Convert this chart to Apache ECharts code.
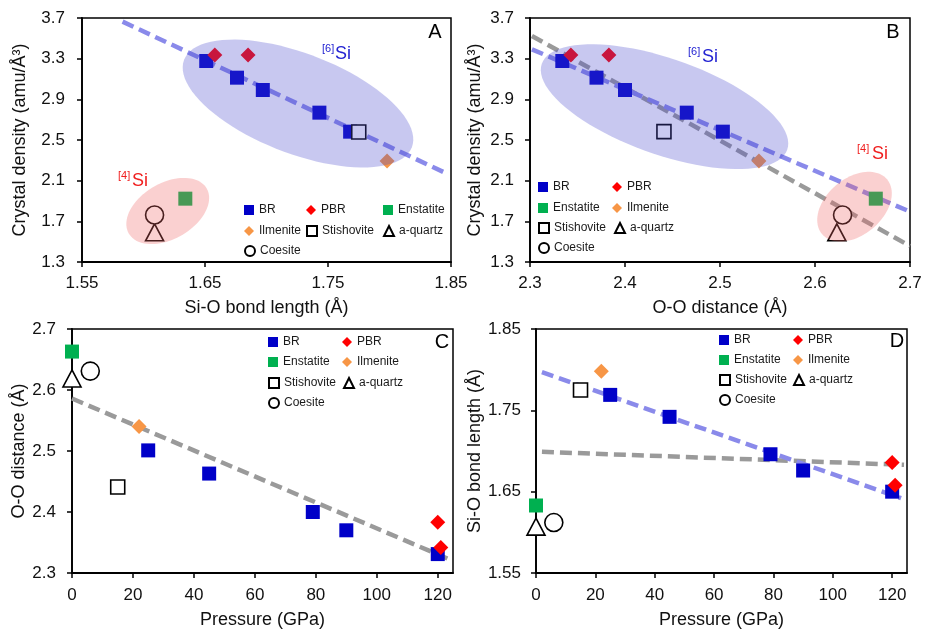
<!DOCTYPE html>
<html><head><meta charset="utf-8">
<script src="https://cdn.jsdelivr.net/npm/echarts@6/dist/echarts.min.js"></script>
<style>html,body{margin:0;padding:0;background:#fff}#c{width:925px;height:630px}</style>
</head><body><div id="c"></div><script>
// ---------- DATA ----------
// Panel A: Si-O bond length (Å) vs crystal density (amu/Å³)
const BR_A = [[1.651,3.277],[1.676,3.113],[1.697,2.992],[1.743,2.769],[1.768,2.582]];
const PBR_A = [[1.658,3.336],[1.685,3.336]];
const ENS_A = [[1.634,1.923]];
const ILM_A = [[1.798,2.293]];
const STI_A = [[1.775,2.578]];
const QTZ_A = [[1.609,1.592]];
const COE_A = [[1.609,1.762]];
const TREND_A_BLUE = [[1.583,3.664],[1.848,2.162]];
const ELL_A_6 = [1.7256,2.859];
const ELL_A_4 = [1.6197,1.802];

// Panel B: O-O distance (Å) vs crystal density
const BR_B = [[2.334,3.277],[2.370,3.113],[2.400,2.992],[2.465,2.769],[2.503,2.582]];
const PBR_B = [[2.343,3.336],[2.383,3.336]];
const ENS_B = [[2.664,1.923]];
const ILM_B = [[2.541,2.293]];
const STI_B = [[2.441,2.582]];
const QTZ_B = [[2.623,1.592]];
const COE_B = [[2.629,1.762]];
const TREND_B_BLUE = [[2.302,3.392],[2.700,1.795]];
const TREND_B_GRAY = [[2.302,3.523],[2.700,1.457]];
const ELL_B_6 = [2.4416,2.8275];
const ELL_B_4 = [2.6416,1.844];

// Panel C: pressure (GPa) vs O-O distance
const BR_C = [[25,2.501],[45,2.463],[79,2.400],[90,2.370],[120,2.331]];
const PBR_C = [[120,2.383],[121,2.342]];
const ENS_C = [[0,2.663]];
const ILM_C = [[22,2.540]];
const STI_C = [[15,2.441]];
const QTZ_C = [[0,2.619]];
const COE_C = [[6,2.631]];
const TREND_C_GRAY = [[0,2.586],[124,2.322]];

// Panel D: pressure (GPa) vs Si-O bond length
const BR_D = [[25,1.769],[45,1.742],[79,1.696],[90,1.676],[120,1.650]];
const PBR_D = [[120,1.686],[121,1.658]];
const ENS_D = [[0,1.633]];
const ILM_D = [[22,1.798]];
const STI_D = [[15,1.775]];
const QTZ_D = [[0,1.607]];
const COE_D = [[6,1.612]];
const TREND_D_BLUE = [[2,1.797],[123,1.642]];
const TREND_D_GRAY = [[2,1.699],[124,1.683]];

// Tick labels
const X_TICKS_A = ['1.55','1.65','1.75','1.85'];
const X_TICKS_B = ['2.3','2.4','2.5','2.6','2.7'];
const X_TICKS_P = ['0','20','40','60','80','100','120'];
const Y_TICKS_DENS = ['1.3','1.7','2.1','2.5','2.9','3.3','3.7'];
const Y_TICKS_C = ['2.3','2.4','2.5','2.6','2.7'];
const Y_TICKS_D = ['1.55','1.65','1.75','1.85'];

const NAMES = ['BR','PBR','Enstatite','Ilmenite','Stishovite','a-quartz','Coesite'];
const PANEL_DATA = [
  [BR_A,PBR_A,ENS_A,ILM_A,STI_A,QTZ_A,COE_A],
  [BR_B,PBR_B,ENS_B,ILM_B,STI_B,QTZ_B,COE_B],
  [BR_C,PBR_C,ENS_C,ILM_C,STI_C,QTZ_C,COE_C],
  [BR_D,PBR_D,ENS_D,ILM_D,STI_D,QTZ_D,COE_D]
];

// ---------- STYLE / LAYOUT ----------
const FONT = "'Liberation Sans', Arial, sans-serif";
const SYM = {
  'BR':        {symbol:'rect', symbolSize:14, itemStyle:{color:'#0000c8', opacity:1}},
  'PBR':       {symbol:'diamond', symbolSize:15, itemStyle:{color:'#ff0000', opacity:1}},
  'Enstatite': {symbol:'rect', symbolSize:14, itemStyle:{color:'#00b050', opacity:1}},
  'Ilmenite':  {symbol:'diamond', symbolSize:15, itemStyle:{color:'#f79646', opacity:1}},
  'Stishovite':{symbol:'rect', symbolSize:14, itemStyle:{color:'#ffffff', borderColor:'#000', borderWidth:1.6, opacity:1}},
  'a-quartz':  {symbol:'triangle', symbolSize:[18,17], itemStyle:{color:'#ffffff', borderColor:'#000', borderWidth:1.6, opacity:1}},
  'Coesite':   {symbol:'circle', symbolSize:18, itemStyle:{color:'#ffffff', borderColor:'#000', borderWidth:1.6, opacity:1}}
};
const GRIDS = [
  {left:82, top:18, width:369, height:244},
  {left:530, top:18, width:380, height:244},
  {left:72, top:329, width:381, height:244},
  {left:536, top:329, width:371, height:244}
];

function axis(type, gridIndex, min, max, labels, name, nameGap, margin){
  const vals = labels.map(Number);
  return {
    type:'value', gridIndex, min, max, name, nameLocation:'middle', nameGap,
    nameTextStyle:{fontSize:18, color:'#111', fontFamily:FONT},
    axisLine:{show:true, onZero:false, lineStyle:{color:'#000', width:1.8}},
    axisTick:{show:true, inside:false, length:5, customValues:vals, lineStyle:{color:'#000', width:1.5}},
    axisLabel:{show:true, margin, fontSize:17, color:'#111', fontFamily:FONT, customValues:vals,
      formatter:(v)=>{let best='',d=1e9; vals.forEach((x,i)=>{if(Math.abs(x-v)<d){d=Math.abs(x-v);best=labels[i];}}); return d<1e-6?best:'';}},
    splitLine:{show:false}
  };
}

const xAxes = [
  axis('x',0,1.55,1.85,X_TICKS_A,'Si-O bond length (Å)',37,13),
  axis('x',1,2.3,2.7,X_TICKS_B,'O-O distance (Å)',37,13),
  axis('x',2,0,125,X_TICKS_P,'Pressure (GPa)',38,14),
  axis('x',3,0,125,X_TICKS_P,'Pressure (GPa)',38,14)
];
const yAxes = [
  axis('y',0,1.3,3.7,Y_TICKS_DENS,'Crystal density (amu/Å³)',53,17),
  axis('y',1,1.3,3.7,Y_TICKS_DENS,'Crystal density (amu/Å³)',46,16),
  axis('y',2,2.3,2.7,Y_TICKS_C,'O-O distance (Å)',44,16),
  axis('y',3,1.55,1.85,Y_TICKS_D,'Si-O bond length (Å)',52,15)
];

const series = [];
PANEL_DATA.forEach((arrs, p) => {
  arrs.forEach((d, k) => {
    const n = NAMES[k];
    series.push(Object.assign({type:'scatter', name:n, xAxisIndex:p, yAxisIndex:p, data:d, z:4, clip:false,
      emphasis:{disabled:true}}, SYM[n]));
  });
});
function trend(p, data, color){
  series.push({type:'line', xAxisIndex:p, yAxisIndex:p, data, showSymbol:false, symbol:'none', z:2,
    lineStyle:{color, width:4.5, type:[12,6]}, silent:true, clip:false});
}
const BLUE_LINE = '#8a8aea', GRAY_LINE = '#9a9a9a';
trend(0, TREND_A_BLUE, BLUE_LINE);
trend(1, TREND_B_GRAY, GRAY_LINE);
trend(1, TREND_B_BLUE, BLUE_LINE);
trend(2, TREND_C_GRAY, GRAY_LINE);
trend(3, TREND_D_GRAY, GRAY_LINE);
trend(3, TREND_D_BLUE, BLUE_LINE);

// ellipse overlays: center from data, shape in pixels
function ellipse(p, center, a, b, angDeg, fill){
  series.push({type:'custom', xAxisIndex:p, yAxisIndex:p, data:[center], z:6, silent:true, clip:false,
    renderItem:(params, api)=>{
      const c = api.coord([api.value(0), api.value(1)]);
      const th = angDeg*Math.PI/180, pts=[];
      for(let i=0;i<90;i++){
        const t = i/90*2*Math.PI;
        pts.push([c[0]+a*Math.cos(t)*Math.cos(th)-b*Math.sin(t)*Math.sin(th),
                  c[1]+a*Math.cos(t)*Math.sin(th)+b*Math.sin(t)*Math.cos(th)]);
      }
      return {type:'polygon', shape:{points:pts}, style:{fill}};
    }});
}
const BLUE_ELL = 'rgba(72,72,205,0.3)', PINK_ELL = 'rgba(240,100,100,0.3)';
ellipse(0, ELL_A_6, 122, 50, 21, BLUE_ELL);
ellipse(0, ELL_A_4, 45, 28, -30, PINK_ELL);
ellipse(1, ELL_B_6, 130, 48, 19.3, BLUE_ELL);
ellipse(1, ELL_B_4, 42.5, 28.3, -40, PINK_ELL);

// legends
const LEG = [
  [[249,211],[311,211],[388,211],[249,232],[311,232],[388,232],[249,252]],
  [[543,188],[617,188],[543,209],[617,209],[543,229],[619,229],[543,249]],
  [[273,343],[347,343],[273,363],[347,363],[273,384],[348,384],[273,404]],
  [[724,341],[798,341],[724,361],[798,361],[724,381],[798,381],[724,401]]
];
const legends = [];
LEG.forEach(pl => pl.forEach((pos,k)=>{
  legends.push({data:[NAMES[k]], left:pos[0]-5, top:pos[1]-7, itemWidth:10, itemHeight:10, padding:0, itemGap:0,
    selectedMode:false, textStyle:{fontSize:12, color:'#1a1a1a', fontFamily:FONT}});
}));

// annotations
const graphic = [];
[['A',435,32],['B',893,32],['C',442,342],['D',897,341]].forEach(t=>{
  graphic.push({type:'text', x:t[1], y:t[2], style:{text:t[0], fontSize:20, fontFamily:FONT, fill:'#000', align:'center', verticalAlign:'middle'}});
});
function siLabel(sup, x1, x2, yc, color){
  graphic.push({type:'text', x:x1, y:yc-5, style:{text:sup, fontSize:11, fontFamily:FONT, fill:color, align:'left', verticalAlign:'middle'}});
  graphic.push({type:'text', x:x2, y:yc, style:{text:'Si', fontSize:18, fontFamily:FONT, fill:color, align:'left', verticalAlign:'middle'}});
}
siLabel('[6]', 322, 335, 54, '#2323d2');
siLabel('[4]', 118, 132, 181, '#f01e1e');
siLabel('[6]', 688, 702, 57, '#2323d2');
siLabel('[4]', 857, 872, 154, '#f01e1e');

const option = {
  animation:false,
  backgroundColor:'#fff',
  textStyle:{fontFamily:FONT},
  grid: GRIDS.map(g=>Object.assign({show:true, borderColor:'#000', borderWidth:1.5, backgroundColor:'transparent', containLabel:false}, g)),
  xAxis: xAxes,
  yAxis: yAxes,
  legend: legends,
  series,
  graphic
};
const chart = echarts.init(document.getElementById('c'), null, {renderer:'canvas'});
chart.setOption(option);
</script></body></html>
